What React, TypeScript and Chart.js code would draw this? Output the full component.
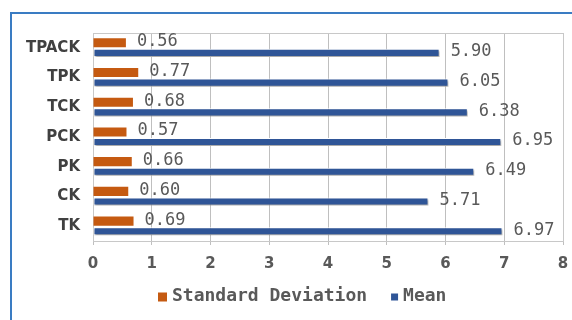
import React, { useEffect, useRef } from "react";
import { Chart, registerables } from "chart.js";

Chart.register(...registerables);

const categories = ["TPACK", "TPK", "TCK", "PCK", "PK", "CK", "TK"];
const sdValues = [0.56, 0.77, 0.68, 0.57, 0.66, 0.6, 0.69];
const meanValues = [5.9, 6.05, 6.38, 6.95, 6.49, 5.71, 6.97];
const xTicks = [0, 1, 2, 3, 4, 5, 6, 7, 8];
const seriesNames = ["Standard Deviation", "Mean"];

const ORANGE = "#c55a11";
const BLUE = "#2f5597";
const TEXT = "#595959";

const shadowPlugin = {
  id: "shadowPlugin",
  beforeDatasetDraw(chart: any, args: any) {
    const ctx = chart.ctx;
    ctx.save();
    if (args.index === 1) {
      ctx.shadowColor = "rgba(0,0,0,0.35)";
      ctx.shadowBlur = 2;
      ctx.shadowOffsetX = 1;
      ctx.shadowOffsetY = 2;
    }
  },
  afterDatasetDraw(chart: any) {
    chart.ctx.restore();
  },
};

const framePlugin = {
  id: "framePlugin",
  beforeDatasetsDraw(chart: any) {
    const { ctx, chartArea } = chart;
    ctx.save();
    ctx.strokeStyle = "#c8c8c8";
    ctx.lineWidth = 1;
    ctx.strokeRect(
      Math.round(chartArea.left) + 0.5,
      Math.round(chartArea.top) + 0.5,
      Math.round(chartArea.right - chartArea.left),
      Math.round(chartArea.bottom - chartArea.top)
    );
    ctx.restore();
  },
};

const labelPlugin = {
  id: "labelPlugin",
  afterDatasetsDraw(chart: any) {
    const ctx = chart.ctx;
    ctx.save();
    ctx.font = '17px "DejaVu Sans Mono"';
    ctx.fillStyle = TEXT;
    ctx.textAlign = "left";
    ctx.textBaseline = "middle";
    chart.data.datasets.forEach((ds: any, di: number) => {
      const meta = chart.getDatasetMeta(di);
      meta.data.forEach((bar: any, i: number) => {
        const v = ds.data[i] as number;
        ctx.fillText(v.toFixed(2), bar.x + 11, bar.y - 1);
      });
    });
    ctx.restore();
  },
};

const legendPlugin = {
  id: "customLegend",
  afterDraw(chart: any) {
    const ctx = chart.ctx;
    ctx.save();
    ctx.font = 'bold 18px "DejaVu Sans Mono"';
    ctx.textBaseline = "middle";
    ctx.textAlign = "left";
    const colors = [ORANGE, BLUE];
    const boxSizes = [9, 7];
    const y = 296;
    let x = 158;
    seriesNames.forEach((name, i) => {
      const b = boxSizes[i];
      ctx.fillStyle = colors[i];
      ctx.fillRect(x, y - b / 2 + 1, b, b);
      x += b + 5;
      ctx.fillStyle = TEXT;
      ctx.fillText(name, x, y);
      x += ctx.measureText(name).width + 24;
    });
    ctx.restore();
  },
};

export default function App() {
  const canvasRef = useRef<HTMLCanvasElement | null>(null);

  useEffect(() => {
    const canvas = canvasRef.current;
    if (!canvas) return;
    const chart = new Chart(canvas, {
      type: "bar",
      data: {
        labels: categories,
        datasets: [
          {
            label: seriesNames[0],
            data: sdValues,
            backgroundColor: ORANGE,
            borderWidth: 0,
            categoryPercentage: 0.68,
            barPercentage: 0.9,
          },
          {
            label: seriesNames[1],
            data: meanValues,
            backgroundColor: BLUE,
            borderColor: "#ffffff",
            borderWidth: 1,
            borderSkipped: false,
            categoryPercentage: 0.68,
            barPercentage: 0.8,
          },
        ],
      },
      options: {
        indexAxis: "y",
        animation: false,
        responsive: false,
        maintainAspectRatio: false,
        layout: { padding: { top: 33, right: 9, bottom: 47, left: 0 } },
        plugins: {
          legend: { display: false },
          tooltip: { enabled: false },
        },
        scales: {
          x: {
            min: 0,
            max: 8,
            afterBuildTicks(scale: any) {
              scale.ticks = xTicks.map((v) => ({ value: v }));
            },
            afterFit(scale: any) {
              scale.height = 32;
              scale.paddingLeft = 0;
              scale.paddingRight = 0;
            },
            grid: {
              color: "#bfbfbf",
              lineWidth: 1,
              drawTicks: true,
              tickLength: 4,
            },
            border: { display: true, color: "#bfbfbf" },
            ticks: {
              color: TEXT,
              padding: 10,
              font: { family: "DejaVu Sans", size: 15, weight: "bold" },
            },
          },
          y: {
            afterFit(scale: any) {
              scale.width = 93;
              scale.paddingTop = 0;
              scale.paddingBottom = 0;
            },
            grid: { display: false, drawTicks: false },
            border: { display: false },
            ticks: {
              color: "#404040",
              padding: 13,
              font: { family: "DejaVu Sans", size: 15, weight: "bold" },
            },
          },
        },
      },
      plugins: [framePlugin, shadowPlugin, labelPlugin, legendPlugin],
    } as any);
    return () => chart.destroy();
  }, []);

  return (
    <div
      style={{
        position: "fixed",
        left: 0,
        top: 0,
        width: 572,
        height: 320,
        background: "#ffffff",
        overflow: "hidden",
      }}
    >
      <div
        style={{
          position: "absolute",
          left: 10,
          top: 12,
          width: 700,
          height: 500,
          border: "2px solid #3a7cc3",
          boxSizing: "border-box",
        }}
      />
      <canvas
        ref={canvasRef}
        width={572}
        height={320}
        style={{ position: "absolute", left: 0, top: 0, width: 572, height: 320 }}
      />
    </div>
  );
}
